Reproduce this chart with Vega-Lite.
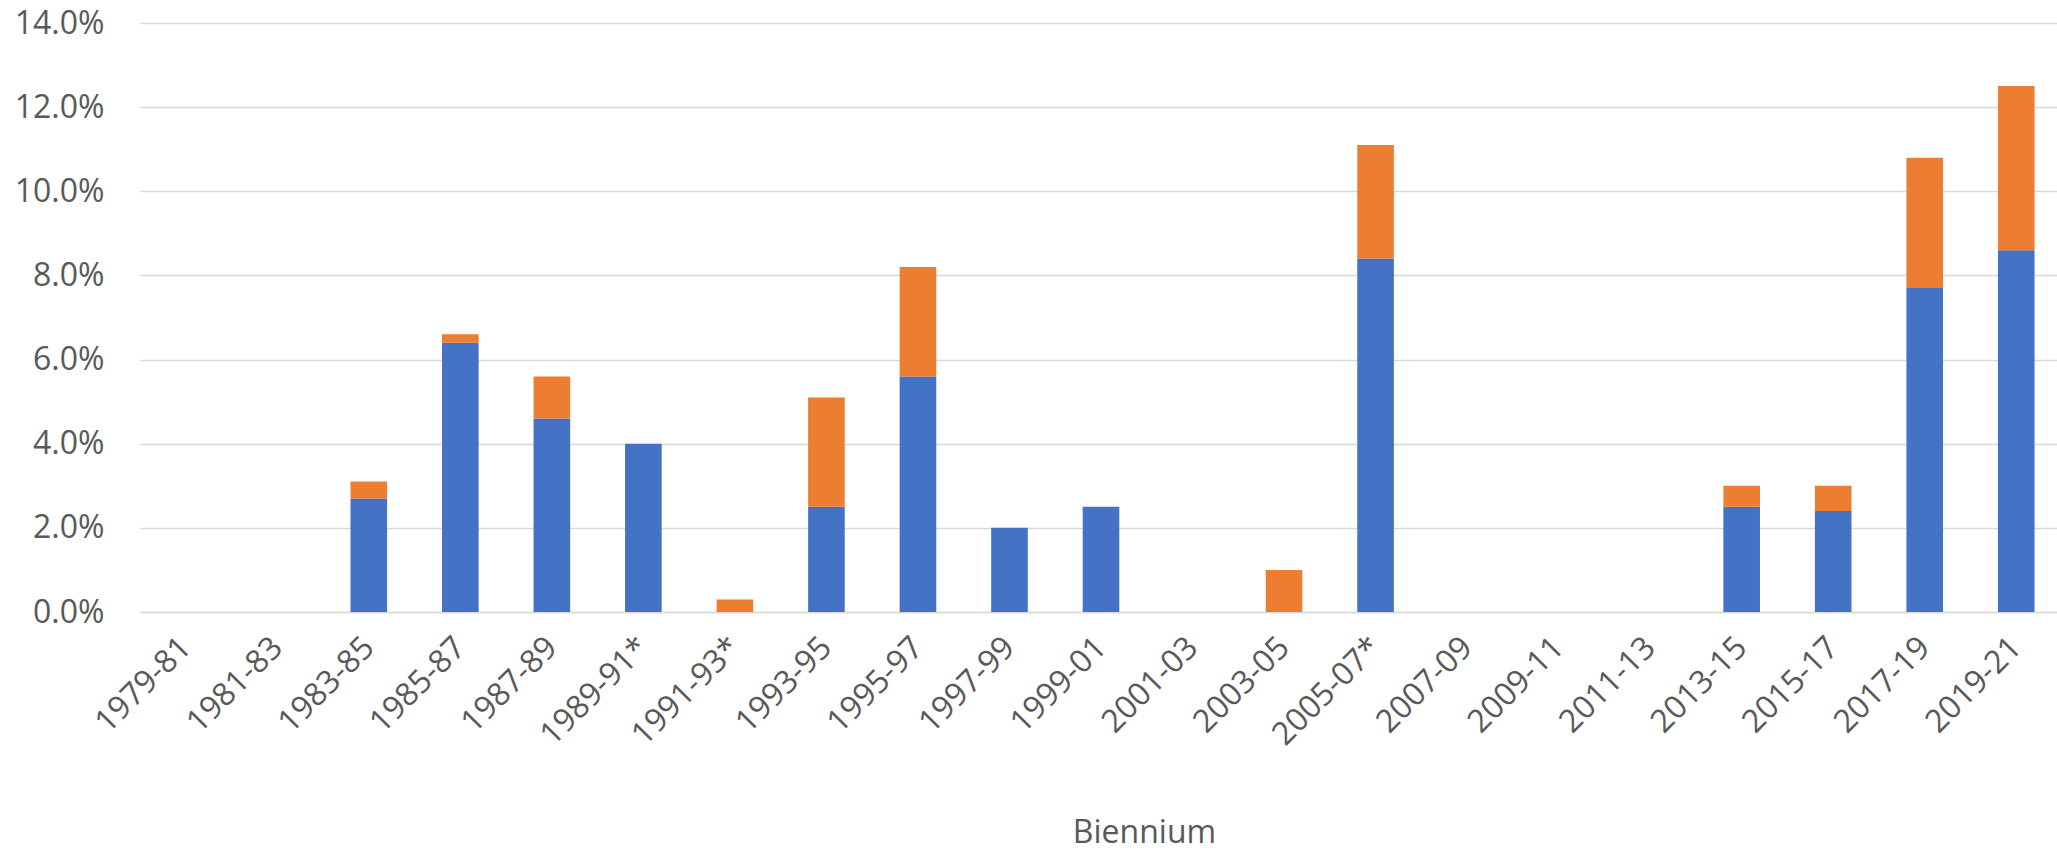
{
  "$schema": "https://vega.github.io/schema/vega-lite/v6.json",
  "autosize": {"type": "none"},
  "width": 1922,
  "height": 589,
  "padding": {"left": 140, "top": 23, "right": 0, "bottom": 240},
  "background": "white",
  "data": {
    "values": [
      {"biennium": "1983-85", "series": "Series1", "value": 0.027},
      {"biennium": "1983-85", "series": "Series2", "value": 0.004},
      {"biennium": "1985-87", "series": "Series1", "value": 0.064},
      {"biennium": "1985-87", "series": "Series2", "value": 0.002},
      {"biennium": "1987-89", "series": "Series1", "value": 0.046},
      {"biennium": "1987-89", "series": "Series2", "value": 0.010},
      {"biennium": "1989-91*", "series": "Series1", "value": 0.040},
      {"biennium": "1991-93*", "series": "Series2", "value": 0.003},
      {"biennium": "1993-95", "series": "Series1", "value": 0.025},
      {"biennium": "1993-95", "series": "Series2", "value": 0.026},
      {"biennium": "1995-97", "series": "Series1", "value": 0.056},
      {"biennium": "1995-97", "series": "Series2", "value": 0.026},
      {"biennium": "1997-99", "series": "Series1", "value": 0.020},
      {"biennium": "1999-01", "series": "Series1", "value": 0.025},
      {"biennium": "2003-05", "series": "Series2", "value": 0.010},
      {"biennium": "2005-07*", "series": "Series1", "value": 0.084},
      {"biennium": "2005-07*", "series": "Series2", "value": 0.027},
      {"biennium": "2013-15", "series": "Series1", "value": 0.025},
      {"biennium": "2013-15", "series": "Series2", "value": 0.005},
      {"biennium": "2015-17", "series": "Series1", "value": 0.024},
      {"biennium": "2015-17", "series": "Series2", "value": 0.006},
      {"biennium": "2017-19", "series": "Series1", "value": 0.077},
      {"biennium": "2017-19", "series": "Series2", "value": 0.031},
      {"biennium": "2019-21", "series": "Series1", "value": 0.086},
      {"biennium": "2019-21", "series": "Series2", "value": 0.039}
    ]
  },
  "mark": {"type": "bar"},
  "encoding": {
    "x": {
      "field": "biennium",
      "type": "nominal",
      "sort": null,
      "scale": {
        "domain": ["1979-81", "1981-83", "1983-85", "1985-87", "1987-89", "1989-91*", "1991-93*", "1993-95", "1995-97", "1997-99", "1999-01", "2001-03", "2003-05", "2005-07*", "2007-09", "2009-11", "2011-13", "2013-15", "2015-17", "2017-19", "2019-21"],
        "paddingInner": 0.6,
        "paddingOuter": 0.3
      },
      "axis": {
        "title": "Biennium",
        "labelAngle": -45,
        "labelAlign": "right",
        "labelBaseline": "middle",
        "labelPadding": 30,
        "labelFont": "Open Sans",
        "labelFontSize": 32,
        "labelColor": "#595959",
        "labelOverlap": false,
        "ticks": false,
        "domain": true,
        "domainColor": "#d9d9d9",
        "domainWidth": 1.5,
        "grid": false,
        "titleFont": "Open Sans",
        "titleFontSize": 32,
        "titleFontWeight": "normal",
        "titleColor": "#595959",
        "titleX": 1004,
        "titleY": 230,
        "titleAlign": "center",
        "titleBaseline": "alphabetic"
      }
    },
    "y": {
      "field": "value",
      "type": "quantitative",
      "aggregate": "sum",
      "stack": "zero",
      "scale": {"domain": [0, 0.14], "nice": false},
      "axis": {
        "title": null,
        "values": [0, 0.02, 0.04, 0.06, 0.08, 0.1, 0.12, 0.14],
        "format": ".1%",
        "labelFont": "Open Sans",
        "labelFontSize": 32,
        "labelColor": "#595959",
        "labelPadding": 36,
        "ticks": false,
        "domain": false,
        "grid": true,
        "gridColor": "#d9d9d9",
        "gridWidth": 1.5
      }
    },
    "color": {
      "field": "series",
      "type": "nominal",
      "scale": {"domain": ["Series1", "Series2"], "range": ["#4472C4", "#ED7D31"]},
      "legend": null
    },
    "order": {"field": "series", "type": "nominal", "sort": "ascending"}
  },
  "config": {
    "view": {"stroke": null}
  }
}
